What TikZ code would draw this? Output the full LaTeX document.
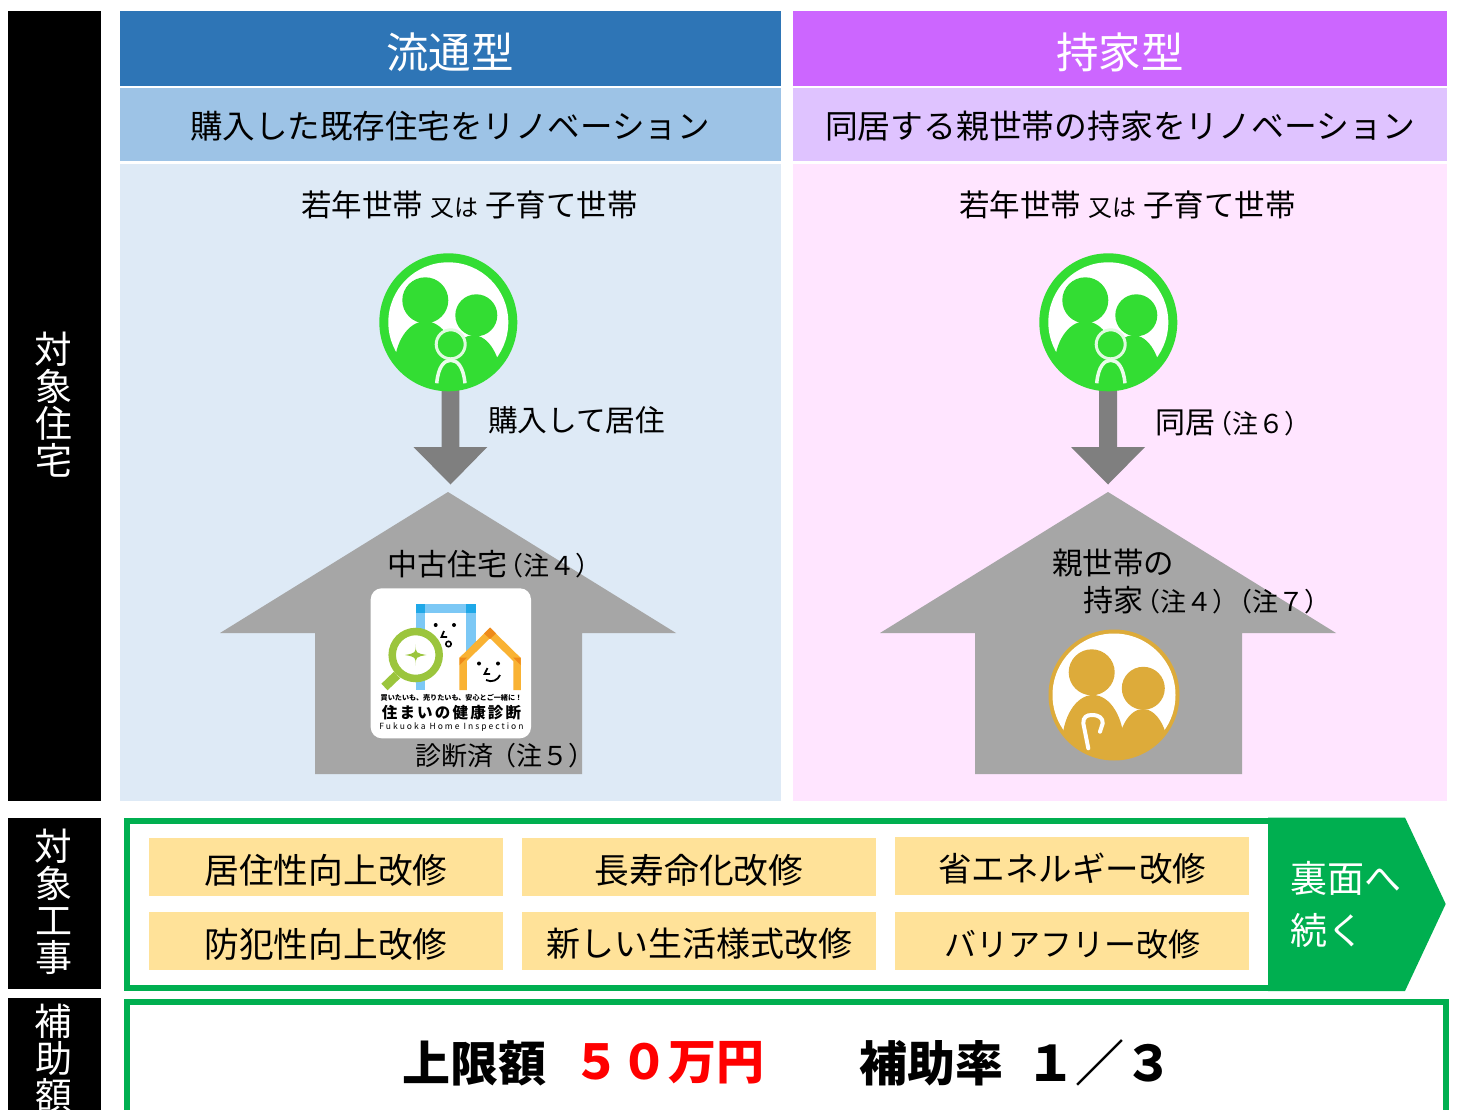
\documentclass[tikz,border=0pt]{standalone}
\usepackage{fontspec}
\setmainfont{Noto Sans CJK JP}
\definecolor{gblue}{HTML}{2E75B6}
\definecolor{lblue}{HTML}{9DC3E6}
\definecolor{pblue}{HTML}{DEEAF6}
\definecolor{gpurple}{HTML}{CC66FF}
\definecolor{lpurple}{HTML}{DFC3FF}
\definecolor{ppink}{HTML}{FFE5FF}
\definecolor{ggreen}{HTML}{00AF50}
\definecolor{fam}{HTML}{33DD33}
\definecolor{gold}{HTML}{DDAB3A}
\definecolor{yel}{HTML}{FFE299}
\definecolor{housegray}{HTML}{A6A6A6}
\definecolor{arrowgray}{HTML}{7F7F7F}
\definecolor{lens}{HTML}{9BC53D}
\definecolor{door}{HTML}{7CC8F5}
\definecolor{doord}{HTML}{1FA8E8}
\definecolor{roof}{HTML}{F9B233}
\definecolor{roofd}{HTML}{EE8A1A}
\newcommand{\fs}[1]{\fontsize{#1}{#1}\selectfont}
\tikzset{
  txt/.style={inner sep=0pt,outer sep=0pt,anchor=center,text=black},
  vtxt/.style={txt,text=white,font=\fs{37},align=center},
}
\newcommand{\familyicon}[2]{%
\begin{scope}[shift={(#1,#2)}]
  \fill[fam] (0,0) circle[radius=69];
  \fill[white] (0,0) circle[radius=60];
  \begin{scope}
    \clip (0,0) circle[radius=62];
    \fill[fam] (-23,-22) circle[radius=23];
    \fill[fam] (28,-7) circle[radius=21];
    \fill[fam] (-23,46) ellipse[x radius=31,y radius=47];
    \fill[fam] (25,60) ellipse[x radius=28,y radius=47];
    \fill[fam] (-55,36) -- (55,36) -- (55,72) -- (-55,72) -- cycle;
  \end{scope}
  \fill[fam,draw=white!85!fam,line width=3pt] (2.4,22) circle[radius=14.5];
  \draw[white!90!fam,line width=3.5pt] (-11.6,61) .. controls (-10,44) and (-4,38) .. (2.4,38) .. controls (9,38) and (15,44) .. (16.7,61);
\end{scope}}
\begin{document}
\begin{tikzpicture}[x=1pt,y=-1pt]
\useasboundingbox (0,0) rectangle (1457,1110);
\clip (0,0) rectangle (1457,1110);
% left black bars
\fill[black] (8,11) rectangle (101,801);
\fill[black] (8,818) rectangle (101,989);
\fill[black] (8,998) rectangle (101,1110);
\node[vtxt] (v1) at (53.5,404.5) {\fontsize{37.5}{37.5}\selectfont 対\\象\\住\\宅};
\node[vtxt] (v2) at (53.5,901.5) {\fontsize{37.5}{36.8}\selectfont 対\\象\\工\\事};
\node[vtxt,anchor=north] (v3) at (53.5,1004) {\fontsize{37.5}{38}\selectfont 補\\助\\額};
% panels
\fill[gblue] (120,11) rectangle (781,86);
\fill[lblue] (120,88) rectangle (781,161);
\fill[pblue] (120,164) rectangle (781,801);
\fill[gpurple] (793,11) rectangle (1447,86);
\fill[lpurple] (793,88) rectangle (1447,161);
\fill[ppink] (793,164) rectangle (1447,801);
\node[txt,text=white,font=\fs{42.5}] (h1) at (450,52.5) {流通型};
\node[txt,text=white,font=\fs{42.5}] (h2) at (1120,52.5) {持家型};
\node[txt,font=\fs{32.5}] (s1) at (450,126.5) {購入した既存住宅をリノベーション};
\node[txt,font=\fs{32.8}] (s2) at (1120,126.5) {同居する親世帯の持家をリノベーション};
\node[txt,font=\fs{30.5}] (t1) at (469.5,205) {若年世帯 {\fs{24}又は} 子育て世帯};
\node[txt,font=\fs{30.5}] (t2) at (1127.5,205) {若年世帯 {\fs{24}又は} 子育て世帯};
% arrows
\fill[arrowgray] (441.7,389) -- (459.3,389) -- (459.3,447) -- (487.3,447) -- (450.5,484.5) -- (413.5,447) -- (441.7,447) -- cycle;
\fill[arrowgray] (1099,389) -- (1117,389) -- (1117,447) -- (1145,447) -- (1108,484.5) -- (1071,447) -- (1099,447) -- cycle;
\familyicon{448.3}{322.3}
\familyicon{1108.3}{322.3}
\node[txt,font=\fs{29.7},anchor=west] (a1) at (488,420) {購入して居住};
\node[txt,font=\fs{30},anchor=west] (a2) at (1155,422.5) {同居\hspace{-9pt}{\fs{26}（注６）}};
% houses
\fill[housegray] (448,492) -- (676,633) -- (582,633) -- (582,774) -- (315,774) -- (315,633) -- (220,633) -- cycle;
\fill[housegray] (1108,492) -- (1336,633) -- (1242,633) -- (1242,774) -- (975,774) -- (975,633) -- (880,633) -- cycle;
% left house text
\node[txt,font=\fs{30},anchor=west] (c1) at (387.5,564) {中古住宅\hspace{-10pt}{\fs{26}（注４）}};
% logo
\fill[white,rounded corners=11pt] (370.7,588.3) rectangle (531,738.3);
\fill[door] (416,604) rectangle (425,690);
\fill[door] (466,604) rectangle (476,652);
\fill[door] (416,604) rectangle (476,613);
\fill[doord] (416,604) rectangle (425,613);
\fill[doord] (466,604) rectangle (476,613);
\draw[lens,line width=9pt] (397,675) -- (384.5,687);
\fill[white] (415.7,655) circle[radius=20];
\draw[lens,line width=7.5pt] (415.7,655) circle[radius=23.5];
\fill[lens] (415.7,644.3) .. controls (415.7,653) .. (426.4,655) .. controls (415.7,657) .. (415.7,665.7) .. controls (415.7,657) .. (405,655) .. controls (415.7,653) .. cycle;
\fill[black] (435.7,625) circle[radius=2];
\fill[black] (454,625) circle[radius=2];
\draw[black,line width=1.8pt] (444,631) -- (441.5,637) -- (447,637);
\draw[black,line width=1.6pt] (448.5,644) circle[radius=2.7];
\draw[roof,line width=7.5pt,line join=miter] (463,690) -- (463,659.5) -- (490,633) -- (517,659.5) -- (517,690);
\fill[roofd] (490,627.5) -- (496,633.5) -- (490,639) -- (484,633.5) -- cycle;
\fill[roofd] (459.5,657.5) -- (467,657.5) -- (459.5,665) -- cycle;
\fill[roofd] (520.5,657.5) -- (513,657.5) -- (520.5,665) -- cycle;
\fill[black] (479,663.5) circle[radius=2];
\fill[black] (498,663.5) circle[radius=2];
\draw[black,line width=1.8pt] (487.5,668) -- (484.5,674) -- (490,674);
\draw[black,line width=1.8pt] (486,680) .. controls (492,683) and (498,680) .. (500,675);
\node[txt,font=\fontsize{7.1}{8}\selectfont\bfseries] (l1) at (451.5,698) {買いたいも、売りたいも、安心とご一緒に！};
\node[txt,font=\fs{15.5}\bfseries\addfontfeatures{LetterSpace=14}] (l2) at (451.5,713) {住まいの健康診断};
\node[txt,font=\fontsize{8.5}{9}\selectfont\addfontfeatures{LetterSpace=24}] (l3) at (451.5,727.5) {Fukuoka Home Inspection};
\node[txt,font=\fs{26},anchor=west] (c2) at (415,755.5) {診断済\hspace{-3pt}（注５）};
% right house text
\node[txt,font=\fs{30.5},anchor=west] (d1) at (1052,563) {親世帯の};
\node[txt,font=\fs{30},anchor=west] (d2) at (1083,600) {持家\hspace{-9pt}{\fs{26}（注４）\hspace{-12pt}（注７）}};
% elder icon
\begin{scope}[shift={(1114,695)}]
  \fill[gold] (0,0) circle[radius=65.5];
  \fill[white] (0,0) circle[radius=61.5];
  \begin{scope}
    \clip (0,0) circle[radius=63];
    \fill[gold] (-22.3,-22.7) circle[radius=23];
    \fill[gold] (29.3,-6.7) circle[radius=21.5];
    \fill[gold] (-21,50) ellipse[x radius=31,y radius=50];
    \fill[gold] (29,61) ellipse[x radius=26,y radius=47];
    \fill[gold] (-55,36) -- (60,36) -- (60,72) -- (-55,72) -- cycle;
  \end{scope}
  \draw[white,line width=4pt,line cap=round] (-25.7,53.3) -- (-30.7,28.3) .. controls (-31,22) and (-27,20) .. (-22.3,20) .. controls (-15,20) and (-11,23) .. (-11.3,28.3) -- (-14,36.7);
\end{scope}
% green box
\draw[ggreen,line width=6pt] (127,821) rectangle (1272,988);
\fill[white] (1268,823.5) rectangle (1272,985);
\fill[ggreen] (1268,817.5) -- (1405,817.5) -- (1445.7,904) -- (1405,991) -- (1268,991) -- cycle;
\node[txt,text=white,font=\fs{37},anchor=west] (r1) at (1290,878) {裏面へ};
\node[txt,text=white,font=\fs{37},anchor=west] (r2) at (1290,930.5) {続く};
% yellow boxes
\foreach \nm/\xa/\xb/\ya/\yb/\sz/\lab in {
 y1/149/503/838/896/34.7/居住性向上改修,
 y2/522/876/838/896/34.7/長寿命化改修,
 y3/895/1249/837/895/33.5/省エネルギー改修,
 y4/149/503/912/970/34.7/防犯性向上改修,
 y5/522/876/912/970/34/新しい生活様式改修,
 y6/895/1249/912/970/32/バリアフリー改修}{
  \fill[yel] (\xa,\ya) rectangle (\xb,\yb);
  \node[txt,font=\fs{\sz}] (\nm) at ({(\xa+\xb)/2},{(\ya+\yb)/2+3}) {\lab};
}
% bottom box
\draw[ggreen,line width=6pt] (127,1002) rectangle (1446,1130);
\node[txt,font=\fs{48}\bfseries,anchor=west] (b1) at (402.5,1063) {上限額};
\node[txt,font=\fs{48}\bfseries,text={rgb,255:red,255;green,0;blue,0},anchor=west] (b2) at (572,1063) {５０万円};
\node[txt,font=\fs{48}\bfseries,anchor=west] (b3) at (859,1063) {補助率};
\node[txt,font=\fs{49}\bfseries,anchor=west] (b4) at (1026,1063) {１／３};
\end{tikzpicture}
\end{document}
